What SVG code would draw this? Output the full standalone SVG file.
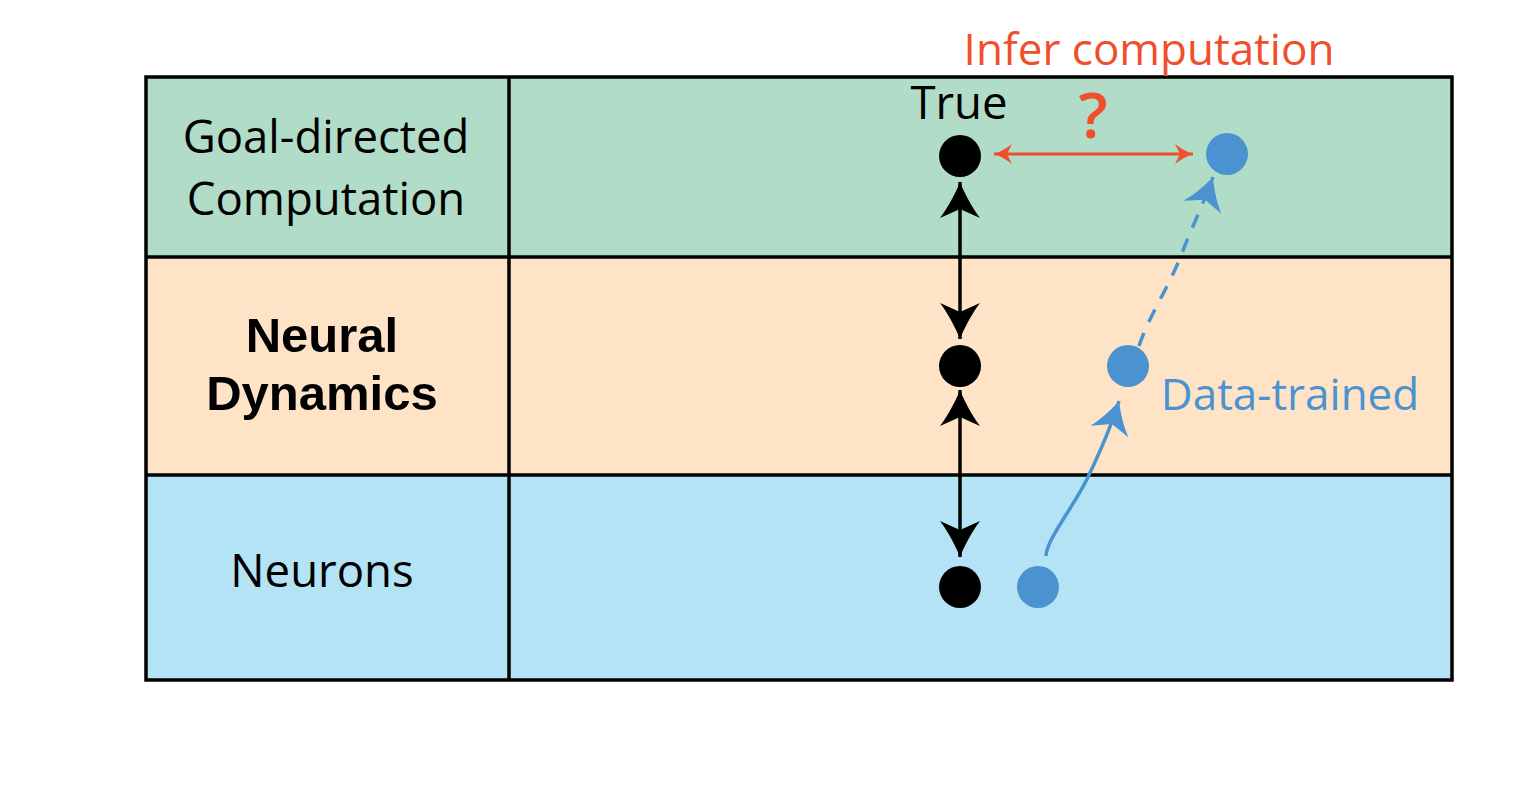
<svg xmlns="http://www.w3.org/2000/svg" width="1535" height="811" viewBox="0 0 1535 811">
<style>
.lbl{font-family:"Open Sans","Noto Sans",sans-serif;font-size:45.5px;fill:#000;text-anchor:middle}
.bold{font-family:"Liberation Sans",Arial,sans-serif;font-weight:bold;font-size:49px;fill:#000;text-anchor:middle}
.grid{stroke:#000;stroke-width:3.5;fill:none}
.blk{stroke:#000;stroke-width:3.5;fill:none}
.red{stroke:#EF4F2B;stroke-width:3;fill:none}
.blu{stroke:#4A93D0;stroke-width:3.5;fill:none}
</style>
<defs>
<marker id="ahBlack" viewBox="-40 -24 44 48" refX="0" refY="0" markerWidth="44" markerHeight="48" markerUnits="userSpaceOnUse" orient="auto-start-reverse">
<path d="M0,0 C-10,4 -24,11 -36,20 L-27,0 L-36,-20 C-24,-11 -10,-4 0,0Z" fill="#000"/>
</marker>
<marker id="ahRed" viewBox="-22 -12 24 24" refX="0" refY="0" markerWidth="24" markerHeight="24" markerUnits="userSpaceOnUse" orient="auto-start-reverse">
<path d="M0,0 C-6,2 -12,5.5 -18,10 L-13,0 L-18,-10 C-12,-5.5 -6,-2 0,0Z" fill="#EF4F2B"/>
</marker>
<marker id="ahBlue" viewBox="-36 -23 40 46" refX="0" refY="0" markerWidth="40" markerHeight="46" markerUnits="userSpaceOnUse" orient="auto">
<path d="M0,0 C-9,4 -22,11 -32,20 L-24,0 L-32,-20 C-22,-11 -9,-4 0,0Z" fill="#4A93D0"/>
</marker>
</defs>
<rect width="1535" height="811" fill="#fff"/>
<g id="row-goal">
<rect x="146" y="77" width="1306" height="180" fill="#B0DCC8"/>
<text class="lbl" x="326" y="153">Goal-directed</text>
<text class="lbl" x="326" y="215">Computation</text>
</g>
<g id="row-dynamics">
<rect x="146" y="257" width="1306" height="218" fill="#FEE3C6"/>
<text class="bold" x="322" y="352">Neural</text>
<text class="bold" x="322" y="410">Dynamics</text>
</g>
<g id="row-neurons">
<rect x="146" y="475" width="1306" height="205" fill="#B3E3F5"/>
<text class="lbl" x="322" y="587">Neurons</text>
</g>
<g id="grid">
<rect class="grid" x="146" y="77" width="1306" height="603"/>
<line class="grid" x1="146" y1="257" x2="1452" y2="257"/>
<line class="grid" x1="146" y1="475" x2="1452" y2="475"/>
<line class="grid" x1="509" y1="77" x2="509" y2="680"/>
</g>
<g id="title">
<text x="1149" y="65" style="font-family:'Open Sans','Noto Sans',sans-serif;font-size:44px;fill:#EF4F2B;text-anchor:middle">Infer computation</text>
</g>
<g id="true-goal">
<text class="lbl" x="959" y="119">True</text>
<circle cx="960" cy="156" r="21" fill="#000"/>
</g>
<g id="true-dynamics"><circle cx="960" cy="366" r="21" fill="#000"/></g>
<g id="true-neurons"><circle cx="960" cy="587" r="21" fill="#000"/></g>
<g id="model-goal"><circle cx="1227" cy="154" r="21" fill="#4A93D0"/></g>
<g id="model-dynamics">
<circle cx="1128" cy="366" r="21" fill="#4A93D0"/>
<text x="1290" y="410" style="font-family:'Open Sans','Noto Sans',sans-serif;font-size:44px;fill:#4A93D0;text-anchor:middle">Data-trained</text>
</g>
<g id="model-neurons"><circle cx="1038" cy="587" r="21" fill="#4A93D0"/></g>
<g id="connectors">
<path class="blk" d="M960,182 L960,339" marker-start="url(#ahBlack)" marker-end="url(#ahBlack)"/>
<path class="blk" d="M960,390 L960,557" marker-start="url(#ahBlack)" marker-end="url(#ahBlack)"/>
<path class="red" d="M994,154 L1193,154" marker-start="url(#ahRed)" marker-end="url(#ahRed)"/>
<text x="1093" y="138" style="font-family:'Open Sans','Noto Sans',sans-serif;font-size:64px;font-weight:600;fill:#EF4F2B;text-anchor:middle">?</text>
<path class="blu" d="M1046,556 C1046,540 1075,505 1088,477 C1100,452 1110,430 1119,401" marker-end="url(#ahBlue)"/>
<path class="blu" stroke-dasharray="14 12" d="M1139,346 C1148,318 1170,285 1182,253 C1190,232 1205,200 1213,177" marker-end="url(#ahBlue)"/>
</g>
</svg>
